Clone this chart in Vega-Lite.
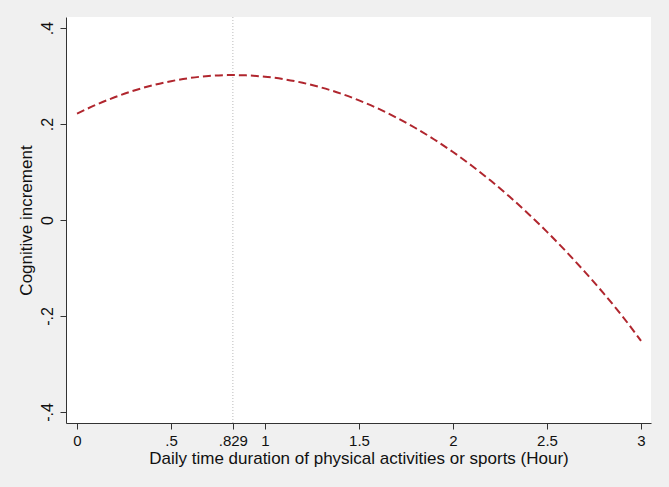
{
  "$schema": "https://vega.github.io/schema/vega-lite/v6.json",
  "width": 585,
  "height": 406,
  "autosize": {"type": "none"},
  "padding": {"left": 66, "top": 17, "right": 18, "bottom": 64},
  "background": "#F0F0F0",
  "config": {
    "view": {"fill": "white", "stroke": null},
    "font": "Liberation Sans",
    "axis": {
      "grid": false,
      "domainColor": "#333333",
      "tickColor": "#333333",
      "labelColor": "#111111",
      "titleColor": "#111111",
      "labelFont": "Liberation Sans",
      "titleFont": "Liberation Sans",
      "titleFontWeight": "normal",
      "labelFontSize": 15,
      "titleFontSize": 17,
      "tickSize": 6
    }
  },
  "datasets": {
    "curve": [
      {"hours": 0.0, "increment": 0.2216},
      {"hours": 0.1, "increment": 0.2398},
      {"hours": 0.2, "increment": 0.2557},
      {"hours": 0.3, "increment": 0.2693},
      {"hours": 0.4, "increment": 0.2805},
      {"hours": 0.5, "increment": 0.2893},
      {"hours": 0.6, "increment": 0.2959},
      {"hours": 0.7, "increment": 0.3001},
      {"hours": 0.8, "increment": 0.3019},
      {"hours": 0.829, "increment": 0.302},
      {"hours": 0.9, "increment": 0.3014},
      {"hours": 1.0, "increment": 0.2986},
      {"hours": 1.1, "increment": 0.2934},
      {"hours": 1.2, "increment": 0.2859},
      {"hours": 1.3, "increment": 0.276},
      {"hours": 1.4, "increment": 0.2639},
      {"hours": 1.5, "increment": 0.2493},
      {"hours": 1.6, "increment": 0.2325},
      {"hours": 1.7, "increment": 0.2132},
      {"hours": 1.8, "increment": 0.1917},
      {"hours": 1.9, "increment": 0.1678},
      {"hours": 2.0, "increment": 0.1416},
      {"hours": 2.1, "increment": 0.113},
      {"hours": 2.2, "increment": 0.0821},
      {"hours": 2.3, "increment": 0.0488},
      {"hours": 2.4, "increment": 0.0132},
      {"hours": 2.5, "increment": -0.0247},
      {"hours": 2.6, "increment": -0.065},
      {"hours": 2.7, "increment": -0.1076},
      {"hours": 2.8, "increment": -0.1525},
      {"hours": 2.9, "increment": -0.2},
      {"hours": 3.0, "increment": -0.252}
    ],
    "peak": [{"hours": 0.829}]
  },
  "layer": [
    {
      "data": {"name": "peak"},
      "mark": {"type": "rule", "color": "#BBBBBB", "strokeWidth": 1, "strokeDash": [1, 2]},
      "encoding": {
        "x": {"field": "hours", "type": "quantitative"}
      }
    },
    {
      "data": {"name": "curve"},
      "mark": {"type": "line", "color": "#B0262E", "strokeWidth": 2, "strokeDash": [8, 4], "interpolate": "monotone"},
      "encoding": {
        "x": {
          "field": "hours",
          "type": "quantitative",
          "title": "Daily time duration of physical activities or sports (Hour)",
          "scale": {"domain": [-0.0585, 3.053], "nice": false, "zero": false},
          "axis": {
            "values": [0, 0.5, 0.829, 1, 1.5, 2, 2.5, 3],
            "labelExpr": "replace(format(datum.value, '.3~f'), '0.', '.')",
            "labelPadding": 4,
            "titlePadding": 2
          }
        },
        "y": {
          "field": "increment",
          "type": "quantitative",
          "title": "Cognitive increment",
          "scale": {"domain": [-0.423, 0.423], "nice": false, "zero": false},
          "axis": {
            "values": [-0.4, -0.2, 0, 0.2, 0.4],
            "labelExpr": "replace(replace(format(datum.value, '.1~f'), '\u2212', '-'), '0.', '.')",
            "labelAngle": -90,
            "labelAlign": "center",
            "labelBaseline": "bottom",
            "labelFontSize": 16,
            "labelPadding": 5,
            "titlePadding": 4
          }
        }
      }
    }
  ]
}
